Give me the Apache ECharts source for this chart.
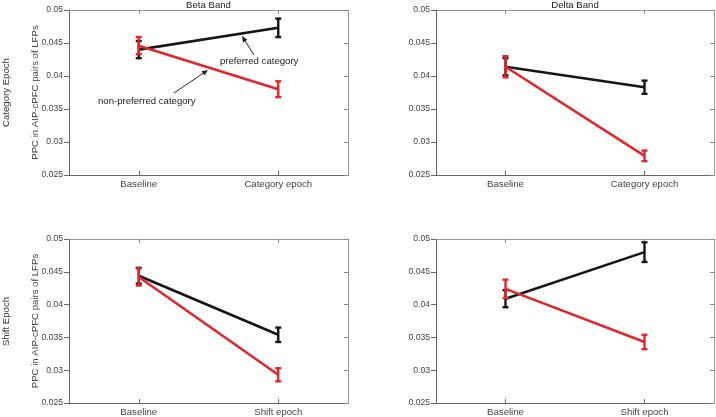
<!DOCTYPE html>
<html>
<head>
<meta charset="utf-8">
<script src="https://cdn.jsdelivr.net/npm/echarts@6/dist/echarts.min.js"></script>
<style>html,body{margin:0;padding:0;background:#fff;}#c{width:716px;height:417px;}</style>
</head>
<body>
<div id="c"></div>
<script>
// ---- data ----
const categoriesCategory = ['Baseline', 'Category epoch'];
const categoriesShift = ['Baseline', 'Shift epoch'];
const yTicks = [0.025, 0.03, 0.035, 0.04, 0.045, 0.05];

const betaCategoryPreferred = [0.0440, 0.0473];
const betaCategoryPreferredErr = [0.0013, 0.0014];
const betaCategoryNonPreferred = [0.0446, 0.0380];
const betaCategoryNonPreferredErr = [0.0013, 0.0012];

const deltaCategoryPreferred = [0.0414, 0.0383];
const deltaCategoryPreferredErr = [0.0013, 0.0010];
const deltaCategoryNonPreferred = [0.0414, 0.0279];
const deltaCategoryNonPreferredErr = [0.0016, 0.0008];

const betaShiftPreferred = [0.0444, 0.0354];
const betaShiftPreferredErr = [0.0012, 0.0011];
const betaShiftNonPreferred = [0.0442, 0.0293];
const betaShiftNonPreferredErr = [0.0013, 0.0010];

const deltaShiftPreferred = [0.0409, 0.0480];
const deltaShiftPreferredErr = [0.0013, 0.0015];
const deltaShiftNonPreferred = [0.0424, 0.0343];
const deltaShiftNonPreferredErr = [0.0014, 0.0011];

const panelTitles = ['Beta Band', 'Delta Band'];
const rowLabels = ['Category Epoch', 'Shift Epoch'];
const yAxisName = 'PPC in AIP-cPFC pairs of LFPs';

// ---- layout ----
const FONT = 'Liberation Sans, Arial, sans-serif';
const FS = 9.6;
const FSY = 8.6;
const BLACK = '#161616';
const RED = '#e2262b';
const grids = [
  {left: 69, top: 10, width: 279, height: 165},
  {left: 436, top: 10, width: 278, height: 165},
  {left: 69, top: 239, width: 279, height: 165},
  {left: 436, top: 239, width: 278, height: 165}
];
const panels = [
  {cats: categoriesCategory, pref: betaCategoryPreferred, prefErr: betaCategoryPreferredErr, non: betaCategoryNonPreferred, nonErr: betaCategoryNonPreferredErr, yname: true},
  {cats: categoriesCategory, pref: deltaCategoryPreferred, prefErr: deltaCategoryPreferredErr, non: deltaCategoryNonPreferred, nonErr: deltaCategoryNonPreferredErr, yname: false},
  {cats: categoriesShift, pref: betaShiftPreferred, prefErr: betaShiftPreferredErr, non: betaShiftNonPreferred, nonErr: betaShiftNonPreferredErr, yname: true},
  {cats: categoriesShift, pref: deltaShiftPreferred, prefErr: deltaShiftPreferredErr, non: deltaShiftNonPreferred, nonErr: deltaShiftNonPreferredErr, yname: false}
];

const xAxes = [], yAxes = [], series = [];
function errData(vals, errs) {
  return vals.map((v, i) => [i, v - errs[i], v + errs[i]]);
}
function errSeries(gi, vals, errs, color, z) {
  return {
    type: 'custom', xAxisIndex: 2 * gi, yAxisIndex: 2 * gi, z: z,
    encode: {x: 0, y: [1, 2]},
    data: errData(vals, errs),
    renderItem: function (params, api) {
      const x = api.value(0);
      const lo = api.coord([x, api.value(1)]);
      const hi = api.coord([x, api.value(2)]);
      const w = 3;
      const st = {stroke: color, lineWidth: 2.4};
      return {type: 'group', children: [
        {type: 'line', shape: {x1: lo[0], y1: lo[1], x2: hi[0], y2: hi[1]}, style: st},
        {type: 'line', shape: {x1: lo[0] - w, y1: lo[1], x2: lo[0] + w, y2: lo[1]}, style: st},
        {type: 'line', shape: {x1: hi[0] - w, y1: hi[1], x2: hi[0] + w, y2: hi[1]}, style: st}
      ]};
    }
  };
}
const fmt = v => String(parseFloat(v.toFixed(3)));

panels.forEach((p, gi) => {
  xAxes.push({
    type: 'category', gridIndex: gi, data: p.cats, position: 'bottom',
    axisLine: {show: true, lineStyle: {color: '#666', width: 1}},
    axisTick: {show: true, inside: true, alignWithLabel: true, length: 4, lineStyle: {color: '#666'}},
    axisLabel: {color: '#444', fontSize: FS, fontFamily: FONT, margin: 4},
    splitLine: {show: false}
  });
  xAxes.push({
    type: 'category', gridIndex: gi, data: p.cats, position: 'top',
    axisLine: {show: true, lineStyle: {color: '#999', width: 1}},
    axisTick: {show: true, inside: true, alignWithLabel: true, length: 4, lineStyle: {color: '#888'}},
    axisLabel: {show: false}, splitLine: {show: false}
  });
  yAxes.push({
    type: 'value', gridIndex: gi, min: yTicks[0], max: yTicks[yTicks.length - 1], interval: 0.005, position: 'left',
    axisLine: {show: true, lineStyle: {color: '#666', width: 1}},
    axisTick: {show: true, inside: false, length: 5, lineStyle: {color: '#666'}},
    axisLabel: {color: '#444', fontSize: FSY, fontFamily: FONT, margin: 6, formatter: fmt},
    splitLine: {show: false},
    name: p.yname ? yAxisName : '', nameLocation: 'middle', nameGap: 29, nameMoveOverlap: false,
    nameTextStyle: {color: '#444', fontSize: FS, fontFamily: FONT}
  });
  yAxes.push({
    type: 'value', gridIndex: gi, min: yTicks[0], max: yTicks[yTicks.length - 1], interval: 0.005, position: 'right',
    axisLine: {show: true, lineStyle: {color: '#999', width: 1}},
    axisTick: {show: true, inside: true, length: 4, lineStyle: {color: '#888'}},
    axisLabel: {show: false}, splitLine: {show: false}
  });
  series.push({
    type: 'line', xAxisIndex: 2 * gi, yAxisIndex: 2 * gi, data: p.pref, z: 3,
    symbol: 'none', lineStyle: {color: BLACK, width: 2.6}, silent: true
  });
  series.push(errSeries(gi, p.pref, p.prefErr, BLACK, 4));
  series.push({
    type: 'line', xAxisIndex: 2 * gi, yAxisIndex: 2 * gi, data: p.non, z: 5,
    symbol: 'none', lineStyle: {color: RED, width: 2.6}, silent: true
  });
  series.push(errSeries(gi, p.non, p.nonErr, RED, 6));
});

// ---- titles, row labels and annotations ----
const graphics = [];
[0, 1].forEach(i => {
  const g = grids[i];
  graphics.push({type: 'text', x: g.left + g.width / 2, y: 5,
    style: {text: panelTitles[i], fill: '#222', font: FS + 'px ' + FONT, textAlign: 'center', textVerticalAlign: 'middle'}});
});
[0, 2].forEach((gi, r) => {
  const g = grids[gi];
  graphics.push({type: 'text', x: 6, y: g.top + g.height / 2, rotation: Math.PI / 2,
    style: {text: rowLabels[r], fill: '#333', font: FS + 'px ' + FONT, textAlign: 'center', textVerticalAlign: 'middle'}});
});
function arrow(x1, y1, x2, y2) {
  const ang = Math.atan2(y2 - y1, x2 - x1);
  const L = 6, W = 2.6;
  const bx = x2 - L * Math.cos(ang), by = y2 - L * Math.sin(ang);
  const px = -Math.sin(ang) * W, py = Math.cos(ang) * W;
  graphics.push({type: 'line', shape: {x1: x1, y1: y1, x2: bx, y2: by}, style: {stroke: '#222', lineWidth: 1}});
  graphics.push({type: 'polygon', shape: {points: [[x2, y2], [bx + px, by + py], [bx - px, by - py]]}, style: {fill: '#222'}});
}
graphics.push({type: 'text', x: 220, y: 61,
  style: {text: 'preferred category', fill: '#222', font: FS + 'px ' + FONT, textAlign: 'left', textVerticalAlign: 'middle'}});
arrow(254, 55, 242, 36);
graphics.push({type: 'text', x: 98, y: 101,
  style: {text: 'non-preferred category', fill: '#222', font: FS + 'px ' + FONT, textAlign: 'left', textVerticalAlign: 'middle'}});
arrow(174, 93, 208, 70);

const chart = echarts.init(document.getElementById('c'));
chart.setOption({
  animation: false,
  backgroundColor: '#fff',
  grid: grids.map(g => Object.assign({containLabel: false}, g)),
  xAxis: xAxes,
  yAxis: yAxes,
  series: series,
  graphic: graphics
});
</script>
</body>
</html>
